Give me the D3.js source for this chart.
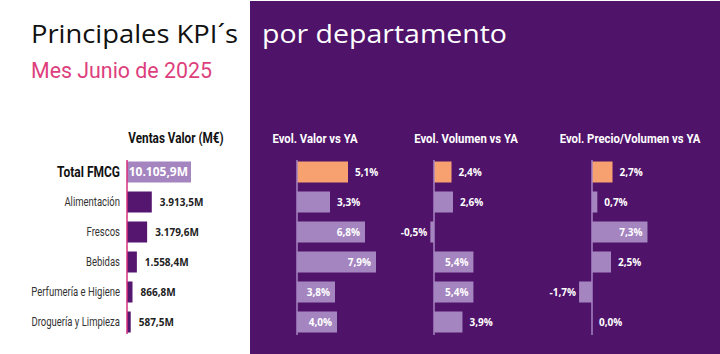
<!DOCTYPE html>
<html>
<head>
<meta charset="utf-8">
<script src="https://cdn.jsdelivr.net/npm/d3@7"></script>
<style>
  body { margin: 0; background: #fff; }
  svg { display: block; }
  .hdr { font-family: Roboto, sans-serif; font-weight: bold; }
  .num { font-family: "Open Sans", sans-serif; font-weight: bold; }
</style>
</head>
<body>
<svg width="720" height="354"></svg>
<script>
const categories = ['Total FMCG', 'Alimentación', 'Frescos', 'Bebidas', 'Perfumería e Higiene', 'Droguería y Limpieza'];
const ventas = [10105.9, 3913.5, 3179.6, 1558.4, 866.8, 587.5];
const ventasLabels = ['10.105,9M', '3.913,5M', '3.179,6M', '1.558,4M', '866,8M', '587,5M'];
const evolValor = [5.1, 3.3, 6.8, 7.9, 3.8, 4.0];
const evolVolumen = [2.4, 2.6, -0.5, 5.4, 5.4, 3.9];
const evolPrecio = [2.7, 0.7, 7.3, 2.5, -1.7, 0.0];
const panelTitles = ['Evol. Valor vs YA', 'Evol. Volumen vs YA', 'Evol. Precio/Volumen vs YA'];

const PURPLE = '#4f1369';
const svg = d3.select('svg');
const pct = v => d3.format('.1f')(v).replace('.', ',').replace('−', '-') + '%';

// squeeze Roboto into a condensed look
function narrow(sel, x, yy, sx) {
  return sel.attr('x', 0).attr('y', 0).attr('transform', `translate(${x},${yy}) scale(${sx},1)`);
}

svg.append('rect').attr('x', 250).attr('y', 1).attr('width', 470).attr('height', 353).attr('fill', PURPLE);

// titles
svg.append('text').attr('x', 31).attr('y', 43)
  .attr('font-family', '"Open Sans", sans-serif').attr('font-size', 26).attr('fill', '#111')
  .attr('textLength', 207).attr('lengthAdjust', 'spacingAndGlyphs')
  .text('Principales KPI´s');
svg.append('text').attr('x', 262).attr('y', 43)
  .attr('font-family', '"Open Sans", sans-serif').attr('font-size', 26).attr('fill', '#fff')
  .attr('textLength', 245).attr('lengthAdjust', 'spacingAndGlyphs')
  .text('por departamento');
svg.append('text').attr('x', 31).attr('y', 78)
  .attr('font-family', 'Roboto, sans-serif').attr('font-size', 22).attr('fill', '#dd3f7d')
  .attr('textLength', 181).attr('lengthAdjust', 'spacingAndGlyphs')
  .text('Mes Junio de 2025');

const y = d3.scaleBand().domain(categories).range([157, 337]).paddingInner(0.3).paddingOuter(0.15);

// Ventas valor
const x0 = 127;
const xv = d3.scaleLinear().domain([0, d3.max(ventas)]).range([x0, 191]);
narrow(svg.append('text').attr('class', 'hdr'), 176, 143, 0.84)
  .attr('text-anchor', 'middle').attr('font-size', 14).attr('fill', '#111')
  .text('Ventas Valor (M€)');

const gv = svg.append('g');
gv.selectAll('rect').data(ventas).join('rect')
  .attr('x', x0).attr('y', (d, i) => y(categories[i]))
  .attr('width', d => xv(d) - x0).attr('height', y.bandwidth())
  .attr('fill', (d, i) => i === 0 ? '#a585c0' : '#54166e');
gv.append('line').attr('x1', x0).attr('x2', x0).attr('y1', 160).attr('y2', 334)
  .attr('stroke', '#d6307e').attr('stroke-width', 1.5);
gv.selectAll('text.lbl').data(ventas).join('text').attr('class', 'num lbl')
  .attr('x', (d, i) => i === 0 ? xv(d) - 3 : xv(d) + 8)
  .attr('text-anchor', (d, i) => i === 0 ? 'end' : 'start')
  .attr('y', (d, i) => y(categories[i]) + y.bandwidth() / 2 + 4)
  .attr('font-size', (d, i) => i === 0 ? 12 : 10)
  .attr('fill', (d, i) => i === 0 ? '#fff' : '#222')
  .text((d, i) => ventasLabels[i]);
gv.selectAll('text.cat').data(categories).join('text').attr('class', 'cat')
  .each(function(d, i) {
    narrow(d3.select(this), 120, y(d) + y.bandwidth() / 2 + (i === 0 ? 5 : 4), i === 0 ? 0.8 : 0.76);
  })
  .attr('text-anchor', 'end')
  .attr('font-family', 'Roboto, sans-serif')
  .attr('font-weight', (d, i) => i === 0 ? 'bold' : 'normal')
  .attr('font-size', (d, i) => i === 0 ? 15 : 12.5)
  .attr('fill', (d, i) => i === 0 ? '#111' : '#333')
  .text(d => d);

// evolution panels
const panels = [
  { vals: evolValor, axis: 297, perPct: 10, title: 315 },
  { vals: evolVolumen, axis: 434, perPct: 7.3, title: 466 },
  { vals: evolPrecio, axis: 592, perPct: 7.6, title: 630 }
];
panels.forEach((p, k) => {
  const x = d3.scaleLinear().domain([0, 1]).range([p.axis, p.axis + p.perPct]);
  const g = svg.append('g');
  narrow(g.append('text').attr('class', 'hdr'), p.title, 143, 0.84)
    .attr('text-anchor', 'middle').attr('font-size', 13.5).attr('fill', '#fff')
    .text(panelTitles[k]);
  g.selectAll('rect').data(p.vals).join('rect')
    .attr('x', d => Math.min(x(d), x(0)))
    .attr('y', (d, i) => y(categories[i]))
    .attr('width', d => Math.abs(x(d) - x(0)))
    .attr('height', y.bandwidth())
    .attr('fill', (d, i) => i === 0 ? '#f7a070' : '#a585c0');
  g.append('line').attr('x1', x(0)).attr('x2', x(0)).attr('y1', 160).attr('y2', 335)
    .attr('stroke', '#a585c0').attr('stroke-width', 1.5);
  g.selectAll('text.lbl').data(p.vals).join('text').attr('class', 'num lbl')
    .attr('y', (d, i) => y(categories[i]) + y.bandwidth() / 2 + 4)
    .attr('font-size', 10).attr('fill', '#fff')
    .each(function(d, i) {
      const w = Math.abs(x(d) - x(0));
      const t = d3.select(this);
      if (d < 0) {
        t.attr('x', x(d) - 3).attr('text-anchor', 'end');
      } else if (i > 0 && w > 35) {
        t.attr('x', x(d) - 5).attr('text-anchor', 'end');
      } else {
        t.attr('x', x(d) + 7).attr('text-anchor', 'start');
      }
    })
    .text(d => pct(d));
});
</script>
</body>
</html>
